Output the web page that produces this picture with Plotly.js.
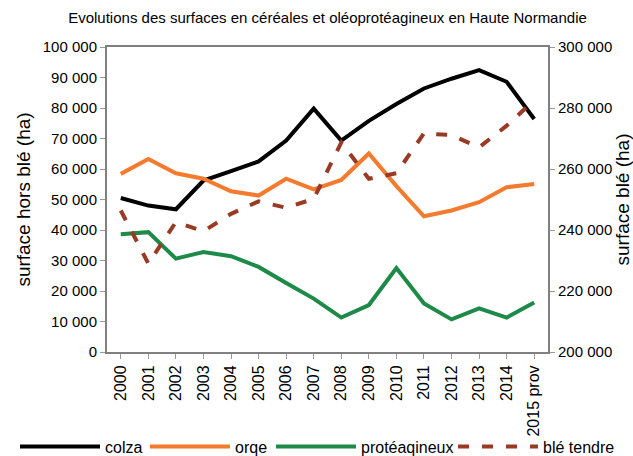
<!DOCTYPE html>
<html><head><meta charset="utf-8">
<script src="https://cdn.plot.ly/plotly-3.0.1.min.js"></script>
<style>html,body{margin:0;padding:0;background:#fff}#chart{width:633px;height:456px}</style>
</head><body><div id="chart"></div>
<script>
var years = ["2000","2001","2002","2003","2004","2005","2006","2007","2008","2009","2010","2011","2012","2013","2014","2015 prov"];
var colza = [50500,48000,46800,56200,59300,62500,69300,79800,69300,75800,81300,86400,89600,92400,88600,76400];
var orge = [58400,63300,58600,56800,52700,51300,56800,53300,56400,65100,54400,44500,46400,49100,54000,55100];
var proteagineux = [38600,39300,30600,32800,31400,27900,22600,17500,11300,15400,27500,15900,10700,14300,11300,16200];
var bleTendre = [246400,229000,242600,239600,245300,249400,247300,250200,268700,256800,258600,271700,271100,267100,274200,282600];

var F = "Liberation Sans, Arial, sans-serif";
var traces = [
  {x: years, y: colza, name: "colza", legend: "legend", type: "scatter", mode: "lines", line: {color: "#000000", width: 4}},
  {x: years, y: orge, name: "orqe", legend: "legend2", type: "scatter", mode: "lines", line: {color: "#f47a2e", width: 4}},
  {x: years, y: proteagineux, name: "protéaqineux", legend: "legend3", type: "scatter", mode: "lines", line: {color: "#1d8a47", width: 4}},
  {x: years, y: bleTendre, name: "blé tendre", legend: "legend4", type: "scatter", mode: "lines", yaxis: "y2", line: {color: "#983a24", width: 4, dash: "11px,13px"}}
];
function px2paper(p) { return (p - 107) / 441; }
function leg(pxLeft) {
  return {orientation: "h", x: px2paper(pxLeft), xanchor: "left", y: -0.31, yanchor: "middle",
    font: {family: F, size: 16, color: "#000"}, itemwidth: 80, bgcolor: "rgba(0,0,0,0)", borderwidth: 0};
}
var axisCommon = {showgrid: false, zeroline: false, showline: true, linecolor: "#808080", linewidth: 2, ticks: "outside", ticklen: 5, tickcolor: "#999", tickwidth: 1, automargin: false};
var layout = {
  width: 633, height: 456,
  margin: {l: 107, r: 85, t: 47, b: 104, autoexpand: false},
  paper_bgcolor: "#fff", plot_bgcolor: "#fff",
  separators: ", ",
  font: {family: F, color: "#000", size: 14},
  title: {text: "Evolutions des surfaces en céréales et oléoprotéagineux en Haute Normandie", font: {family: F, size: 15, color: "#000"}, xref: "paper", x: 0.5, xanchor: "center", y: 0.96, yanchor: "middle"},
  showlegend: true,
  legend: leg(15), legend2: leg(145), legend3: leg(271), legend4: leg(453),
  xaxis: Object.assign({}, axisCommon, {type: "category", range: [-0.5, 15.5], tickangle: -90, mirror: true, tickfont: {family: F, size: 16}}),
  yaxis: Object.assign({}, axisCommon, {range: [0, 100000], dtick: 10000, tickformat: ",d", tickfont: {family: F, size: 15},
    title: {text: "surface hors blé (ha)", font: {family: F, size: 19}, standoff: 7}}),
  yaxis2: Object.assign({}, axisCommon, {overlaying: "y", side: "right", range: [200000, 300000], dtick: 20000, tickformat: ",d", tickfont: {family: F, size: 15},
    title: {text: "surface blé (ha)", font: {family: F, size: 19}, standoff: 6}})
};
Plotly.newPlot("chart", traces, layout, {displayModeBar: false, staticPlot: true});
</script></body></html>
